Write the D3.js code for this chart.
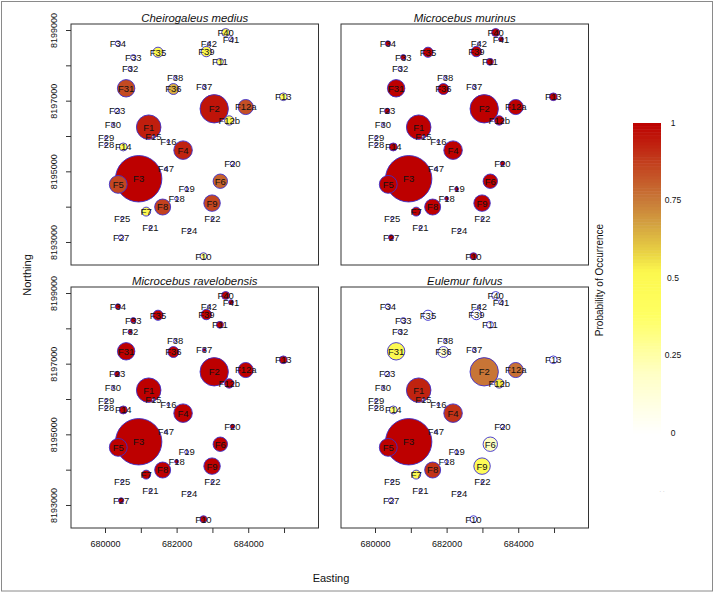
<!DOCTYPE html>
<html>
<head>
<meta charset="utf-8">
<script src="https://cdn.jsdelivr.net/npm/d3@7"></script>
<style>
body { margin: 0; background: #fff; }
svg text { font-family: "Liberation Sans", Arial, sans-serif; fill: #111; }
</style>
</head>
<body>
<div class="canvas"></div>
<script>
// forest fragments
const sites    = ["F1","F2","F3","F4","F5","F6","F7","F8","F9","F10","F11","F12a","F12b","F13","F14","F15","F16","F18","F19","F20","F21","F22","F23","F24","F25","F27","F28","F29","F30","F31","F32","F33","F34","F35","F36","F37","F38","F39","F40","F41","F42","F47"]
const easting  = [681220,683050,680940,682180,680370,683220,681150,681610,682990,682750,683210,683930,683470,684980,680510,681350,681770,682000,682280,683560,681270,683000,680340,682350,680480,680450,680030,680030,680220,680590,680700,680790,680360,681480,681910,682770,681960,682830,683370,683520,682900,681700]
const northing = [8196250,8196770,8194790,8195600,8194630,8194720,8193860,8193990,8194100,8192600,8198100,8196820,8196440,8197110,8195690,8195980,8195850,8194230,8194500,8195220,8193400,8193650,8196710,8193330,8193670,8193130,8195760,8195950,8196320,8197350,8197900,8198230,8198620,8198370,8197330,8197390,8197650,8198390,8198930,8198740,8198620,8195070]
const fragSize = [151,202,540,86,80,52,20,64,68,12,12,57,22,15,16,2,2,4,4,5,2,2,7,2,2,7,2,2,2,76,4,7,7,26,30,3,2.5,27,16,6,2,2]

const species = ["Cheirogaleus medius", "Microcebus murinus", "Microcebus ravelobensis", "Eulemur fulvus"]
const probMedius  = [.94,.96,1,.93,.86,.8,.5,.87,.86,.3,.35,.84,.5,.4,.45,0,0,0,0,0,0,0,0,0,0,0,0,0,0,.85,0,0,0,.5,.65,0,0,.5,.48,0,0,0]
const probMurinus = [1,1,1,1,1,1,1,1,1,1,1,1,1,1,1,0,0,1,1,1,0,0,1,0,0,1,0,0,0,1,0,1,1,1,1,0,0,1,1,1,0,0]
const probRavelo  = [1,1,1,1,1,1,1,1,1,1,1,1,1,1,1,0,0,1,0,1,0,0,1,0,0,1,0,0,0,1,1,1,1,1,1,1,0,1,1,1,0,0]
const probFulvus  = [.93,.76,1,.9,1,.2,.5,.9,.45,0,0,.77,.54,0,.35,0,0,0,0,0,0,0,0,0,0,0,0,0,0,.5,0,0,0,0,.12,0,0,0,0,0,0,0]
const probs = [probMedius, probMurinus, probRavelo, probFulvus]

const xTicks = [680000,681000,682000,683000,684000,685000]
const xTickLabels = [680000,682000,684000]
const yTicks = [8193000,8194000,8195000,8196000,8197000,8198000,8199000]
const yTickLabels = [8193000,8195000,8197000,8199000]
const legendTicks = [0,0.25,0.5,0.75,1]

const width = 716
const height = 596
const pw = 247.5
const ph = 241
const panelPos = [[71,24],[341,24],[71,287],[341,287]]

const svg = d3.select(".canvas")
    .append("svg")
    .attr("width", width)
    .attr("height", height)

svg.append("rect")
    .attr("x", 1.5).attr("y", 1.5)
    .attr("width", 711).attr("height", 589.5)
    .attr("fill", "none")
    .attr("stroke", "#8a8a8a")

const x = d3.scaleLinear().domain([679050, 685963]).range([0, pw])
const y = d3.scaleLinear().domain([8192349, 8199170]).range([ph, 0])
const r = d3.scaleSqrt().domain([0, 540]).range([0, 23.2])
const color = d3.scaleLinear()
    .domain([0, 0.2, 0.38, 0.52, 0.58, 0.67, 0.75, 0.88, 1])
    .range(["#ffffff","#ffffc2","#ffff62","#fcf84e","#ead444","#d4a440","#c87a38","#c23c1c","#bd0000"])

const siteData = sites.map((s, i) => ({ name: s, e: easting[i], n: northing[i], size: fragSize[i], i: i }))
const bySize = siteData.slice().sort((a, b) => b.size - a.size)

species.forEach((sp, k) => {
    const [px, py] = panelPos[k]
    const g = svg.append("g").attr("transform", `translate(${px},${py})`)

    g.selectAll("circle")
        .data(bySize)
        .enter()
        .append("circle")
        .attr("cx", d => x(d.e))
        .attr("cy", d => y(d.n))
        .attr("r", d => r(d.size))
        .attr("fill", d => color(probs[k][d.i]))
        .attr("stroke", "#3c2fcc")
        .attr("stroke-width", 0.9)

    g.selectAll("text.site")
        .data(siteData)
        .enter()
        .append("text")
        .attr("class", "site")
        .attr("x", d => x(d.e))
        .attr("y", d => y(d.n))
        .attr("dy", "0.36em")
        .attr("text-anchor", "middle")
        .style("font-size", "9.5px")
        .text(d => d.name)

    g.append("rect")
        .attr("width", pw).attr("height", ph)
        .attr("fill", "none")
        .attr("stroke", "#333")
        .attr("stroke-width", 1)

    g.append("text")
        .attr("x", pw / 2)
        .attr("y", -2)
        .attr("text-anchor", "middle")
        .style("font-size", "11.4px")
        .style("font-style", "italic")
        .text(sp)

    if (k % 2 == 0) {
        const ay = g.append("g")
            .call(d3.axisLeft(y).tickValues(yTicks).tickSize(5).tickSizeOuter(0)
                .tickFormat(d => yTickLabels.includes(d) ? d : ""))
        ay.select(".domain").remove()
        ay.selectAll("line").attr("stroke", "#333")
        ay.selectAll("text")
            .attr("transform", "rotate(-90)")
            .attr("text-anchor", "middle")
            .attr("x", 0).attr("y", -14).attr("dy", 0)
            .style("font-size", "9px")
            .attr("fill", "#111")
    }
    if (k >= 2) {
        const ax = g.append("g")
            .attr("transform", `translate(0,${ph})`)
            .call(d3.axisBottom(x).tickValues(xTicks).tickSize(5).tickSizeOuter(0).tickPadding(8)
                .tickFormat(d => xTickLabels.includes(d) ? d : ""))
        ax.select(".domain").remove()
        ax.selectAll("line").attr("stroke", "#333")
        ax.selectAll("text").style("font-size", "9px").attr("fill", "#111")
    }
})

svg.append("text")
    .attr("transform", "translate(31,275) rotate(-90)")
    .attr("text-anchor", "middle")
    .style("font-size", "11px")
    .text("Northing")

svg.append("text")
    .attr("x", 331).attr("y", 582)
    .attr("text-anchor", "middle")
    .style("font-size", "11px")
    .text("Easting")

// colour key
const ly = d3.scaleLinear().domain([0, 1]).range([433, 123])
const steps = d3.range(0, 1, 0.01)
const key = svg.append("g")
key.selectAll("rect")
    .data(steps)
    .enter()
    .append("rect")
    .attr("x", 633)
    .attr("width", 28)
    .attr("y", d => ly(d + 0.01))
    .attr("height", d => ly(d) - ly(d + 0.01) + 0.5)
    .attr("fill", d => color(d + 0.005))

key.selectAll("text")
    .data(legendTicks)
    .enter()
    .append("text")
    .attr("x", 673)
    .attr("y", d => ly(d))
    .attr("dy", "0.35em")
    .attr("text-anchor", "middle")
    .style("font-size", "8.5px")
    .text(d => d)

svg.append("text")
    .attr("transform", "translate(603,280) rotate(-90)")
    .attr("text-anchor", "middle")
    .style("font-size", "10px")
    .text("Probability of Occurrence")

svg.append("text")
    .attr("x", 662).attr("y", 493)
    .attr("text-anchor", "middle")
    .style("font-size", "6px")
    .style("fill", "#aaa")
    .text("· ·")
</script>
</body>
</html>
